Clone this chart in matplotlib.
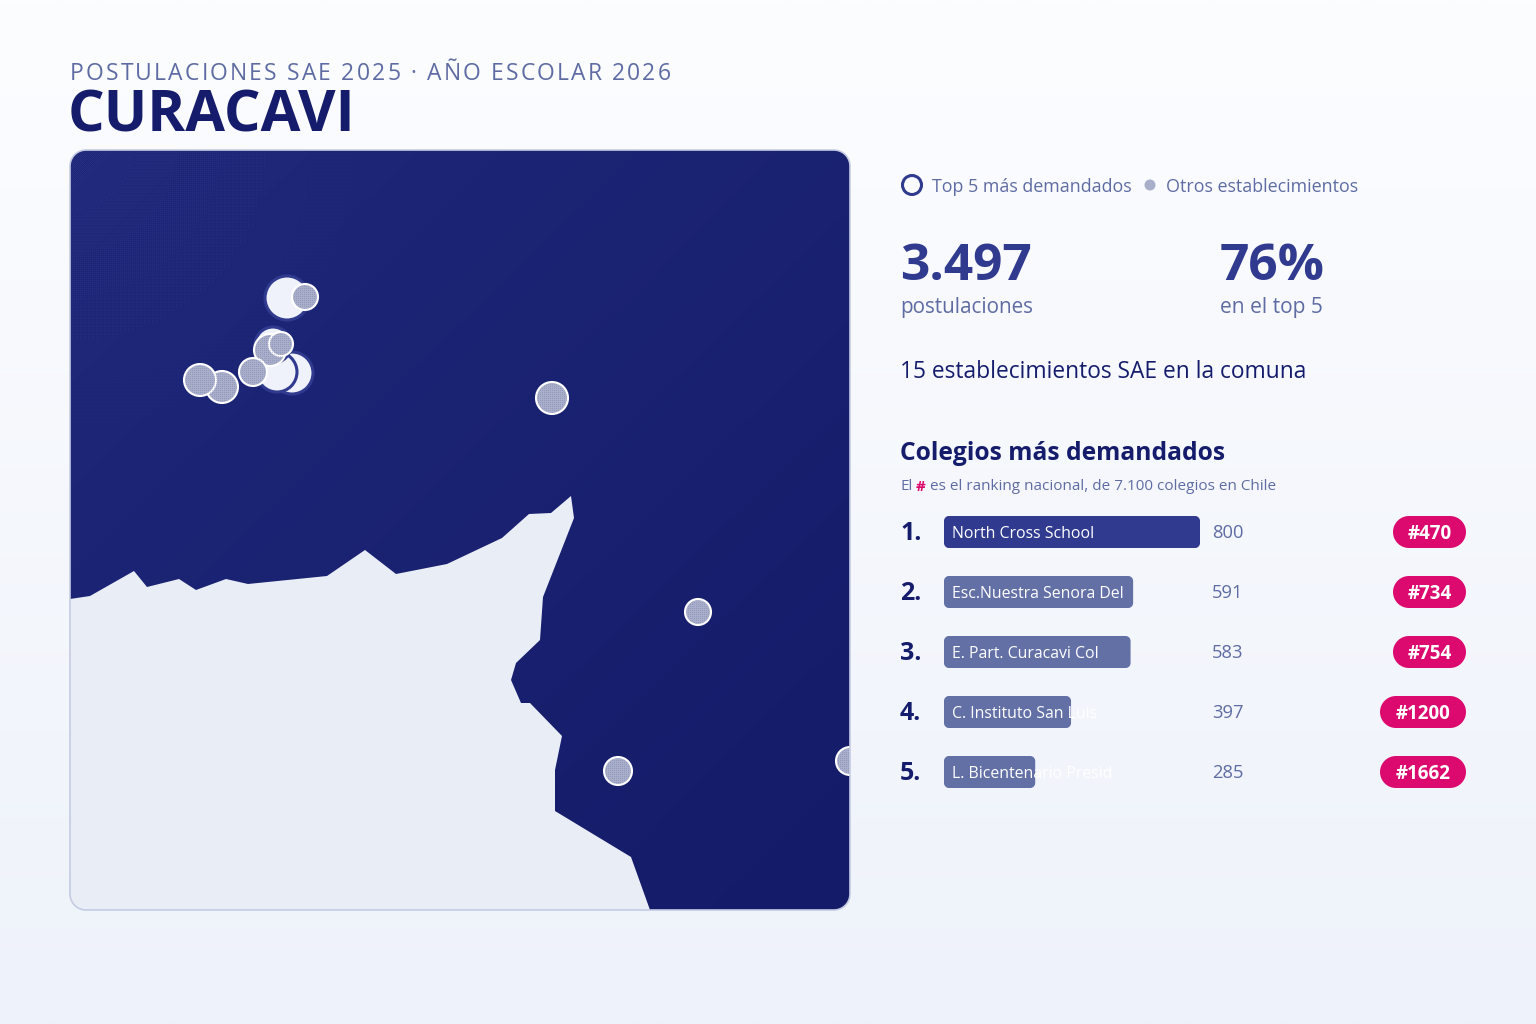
import numpy as np
import matplotlib
matplotlib.use("Agg")
import matplotlib.pyplot as plt
from matplotlib.patches import Circle, Polygon, PathPatch
from matplotlib.path import Path

plt.rcParams['font.family'] = ['Open Sans', 'DejaVu Sans']

# datos
comuna = "CURACAVI"
subtitulo = "POSTULACIONES SAE 2025 · AÑO ESCOLAR 2026"
colegios = ["North Cross School", "Esc.Nuestra Senora Del", "E. Part. Curacavi Col",
            "C. Instituto San Luis", "L. Bicentenario Presid"]
postulaciones = [800, 591, 583, 397, 285]
rankings = ["#470", "#734", "#754", "#1200", "#1662"]

top_x = [292, 277, 273, 270, 287]
top_y = [373, 372, 345, 350, 298]
top_r = [21, 20, 18, 13, 22]
otros_x = [305, 270, 281, 253, 222, 200, 552, 698, 618, 850]
otros_y = [297, 350, 344, 372, 387, 380, 398, 612, 771, 761]
otros_r = [13, 16, 12, 14, 16, 16, 16, 13, 14, 14]

tierra_x = [70, 90, 134, 147, 179, 196, 226, 248, 327, 365, 396, 447, 502, 529, 551, 571,
            574, 543, 540, 516, 511, 521, 530, 562, 555, 555, 631, 650, 70]
tierra_y = [599, 596, 571, 587, 579, 590, 579, 584, 576, 550, 574, 564, 538, 514, 513, 496,
            518, 597, 640, 663, 680, 703, 703, 736, 770, 811, 857, 910, 910]

NAVY = "#151c6c"
BLUE = "#303a8e"
MUTED = "#5f6ca3"
BAR = "#6370a6"
GREY = "#a9afcb"
PINK = "#dc0a6e"
LAND = "#e9edf6"


def spaced_text(ax, x, y, s, spacing, **kw):
    # matplotlib no tiene letter-spacing, asi que letra por letra
    r = ax.figure.canvas.get_renderer()

    def ancho(t):
        tmp = ax.text(0, 0, t, **kw)
        w = tmp.get_window_extent(r).width
        tmp.remove()
        return w

    w_punto = ancho(".")
    for i, ch in enumerate(s):
        ax.text(x + ancho(s[:i] + ".") - w_punto + spacing * i, y, ch, ha='left', va='center', **kw)


def rounded(ax, x, y, w, h, r, **kw):
    # esquinas de arco de verdad, FancyBboxPatch queda muy cuadrado en las pildoras
    a = np.linspace(0, np.pi / 2, 16)
    cx, cy = np.cos(a) * r, np.sin(a) * r
    pts = np.vstack([
        np.column_stack([x + w - r + cx, y + h - r + cy]),
        np.column_stack([x + r - cy, y + h - r + cx]),
        np.column_stack([x + r - cx, y + r - cy]),
        np.column_stack([x + w - r + cy, y + r - cx]),
    ])
    p = Polygon(pts, closed=True, **kw)
    ax.add_patch(p)
    return p


fig = plt.figure(figsize=(15.36, 10.24), dpi=100)
ax = fig.add_axes([0, 0, 1, 1])
ax.set_xlim(0, 1536)
ax.set_ylim(1024, 0)
ax.axis('off')

# fondo
fondo = np.linspace(0, 1, 256).reshape(-1, 1)
fondo_rgb = np.array([252, 253, 255]) / 255 * (1 - fondo[..., None]) + np.array([238, 242, 250]) / 255 * fondo[..., None]
ax.imshow(fondo_rgb, extent=[0, 1536, 1024, 0], aspect='auto', zorder=0, interpolation='bilinear')

# mapa: degradado con trama en la esquina superior izquierda
marco = rounded(ax, 70, 150, 780, 760, 16, fc="none", ec="none", zorder=1)
yy, xx = np.mgrid[0:1:760j, 0:1:780j]
t = ((xx + yy) / 2)[..., None]
mar = np.array([31, 40, 122]) / 255 * (1 - t) + np.array([20, 27, 104]) / 255 * t
bayer = np.array([[0, 8, 2, 10], [12, 4, 14, 6], [3, 11, 1, 9], [15, 7, 13, 5]]) / 16
trama = np.tile(bayer, (190, 195))
densidad = np.clip(0.4 - 1.1 * np.hypot(xx, yy), 0, 1)
mar = mar + ((trama < densidad) * 0.025)[..., None]
img = ax.imshow(np.clip(mar, 0, 1), extent=[70, 850, 910, 150], aspect='auto', zorder=1, interpolation='nearest')
img.set_clip_path(marco)

tierra = Polygon(np.column_stack([tierra_x, tierra_y]), fc=LAND, ec="none", zorder=2)
ax.add_patch(tierra)
tierra.set_clip_path(marco)

for x, y, r in zip(top_x, top_y, top_r):
    c = Circle((x, y), r, fc="#eff2fb", ec=BLUE, lw=2.2, zorder=3)
    ax.add_patch(c)
    c.set_clip_path(marco)
for x, y, r in zip(otros_x, otros_y, otros_r):
    c = Circle((x, y), r, fc=GREY, ec="white", lw=1.5, zorder=4)
    ax.add_patch(c)
    c.set_clip_path(marco)

# punteado dentro de los circulos grises
rgba = np.zeros((760, 780, 4))
rgba[..., :3] = np.array([95, 103, 150]) / 255
rgba[..., 3] = (trama < 0.2) * 0.3
punteado = ax.imshow(rgba, extent=[70, 850, 910, 150], aspect='auto', zorder=4.5, interpolation='nearest')
recorte = Path.make_compound_path(*[Path.circle((x, y), r - 1.5) for x, y, r in zip(otros_x, otros_y, otros_r)])
punteado.set_clip_path(PathPatch(recorte, transform=ax.transData))

rounded(ax, 70, 150, 780, 760, 16, fc="none", ec="#c6cce2", lw=1.2, zorder=5)

# titulo
spaced_text(ax, 70, 74, subtitulo, 2.15, fontsize=16.5, color=MUTED)
ax.text(68, 116, comuna, fontsize=41.5, fontweight='bold', color=NAVY, va='center', ha='left')

# leyenda
ax.add_patch(Circle((912, 185), 9.5, fc="#fbfcff", ec=BLUE, lw=2.2, zorder=3))
ax.text(932, 187, "Top 5 más demandados", fontsize=12.85, color=MUTED, va='center')
ax.add_patch(Circle((1150, 185), 5.5, fc=GREY, ec="none", zorder=3))
ax.text(1166, 187, "Otros establecimientos", fontsize=12.85, color=MUTED, va='center')

# cifras
ax.text(900, 267, "3.497", fontsize=37, fontweight='bold', color=BLUE, va='center')
ax.text(1220, 267, "76%", fontsize=37, fontweight='bold', color=BLUE, va='center')
ax.text(900, 307, "postulaciones", fontsize=14.9, color=MUTED, va='center')
ax.text(1220, 307, "en el top 5", fontsize=15.1, color=MUTED, va='center')
ax.text(900, 372, "15 establecimientos SAE en la comuna", fontsize=16.35, color=NAVY, va='center')

ax.text(900, 453, "Colegios más demandados", fontsize=17.7, fontweight='bold', color=NAVY, va='center')
ax.text(900, 487, "El", fontsize=11, color=MUTED, va='center')
ax.text(916, 487, "#", fontsize=11, fontweight='bold', color=PINK, va='center')
ax.text(930, 487, "es el ranking nacional, de 7.100 colegios en Chile", fontsize=11, color=MUTED, va='center')

# ranking
for i, (nombre, val, rk) in enumerate(zip(colegios, postulaciones, rankings)):
    yc = 532 + 60 * i
    ax.text(900, yc + 1, f"{i + 1}.", fontsize=18, fontweight='bold', color=NAVY, va='center')
    rounded(ax, 944, yc - 16, val * 0.32, 32, 5, fc=BLUE if i == 0 else BAR, ec="none", zorder=3)
    ax.text(952, yc + 2, nombre, fontsize=11.45, color="white", va='center', zorder=4)
    ax.text(1212, yc + 1, str(val), fontsize=13.2, color=MUTED, va='center')
    w = 73 if len(rk) == 4 else 86
    rounded(ax, 1466 - w, yc - 16, w, 32, 16, fc=PINK, ec="none", zorder=3)
    ax.text(1466 - w / 2, yc + 2, rk, fontsize=13.5, fontweight='bold', color="white", va='center', ha='center', zorder=4)

fig.savefig("out.png", dpi=100)
